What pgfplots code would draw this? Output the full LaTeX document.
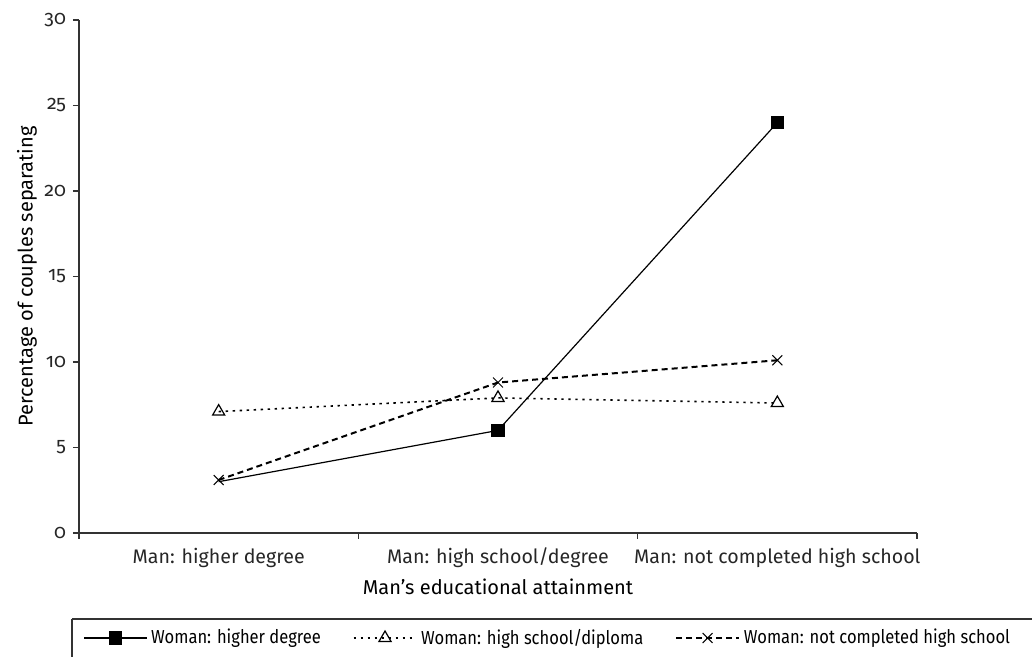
\documentclass[border=0pt]{standalone}
\usepackage{fontspec}
\setmainfont{Fira Sans}[Numbers=OldStyle]
\newfontfamily\legfont{Fira Sans}[FakeStretch=0.88]
\usepackage{pgfplots}
\pgfplotsset{compat=1.18}
\begin{document}
\begin{tikzpicture}
\begin{axis}[
    scale only axis, width=419pt, height=256.5pt,
    xmin=0, xmax=3, ymin=0, ymax=30,
    axis x line=bottom, axis y line=left,
    axis line style={-, line width=0.6pt, black!80},
    ytick={0,5,...,30},
    xtick={0,1,2,3}, xticklabels={},
    extra x ticks={0.5,1.5,2.5},
    extra x tick labels={Man: higher degree, Man: high school/degree, Man: not completed high school},
    extra x tick style={major tick length=0pt, ticklabel style={yshift=-4pt}},
    tick align=outside, major tick length=3pt,
    tick style={black!80, line width=0.6pt},
    ticklabel style={font=\fontsize{9.8}{11}\selectfont, text=black!85},
    /pgf/number format/assume math mode=true,
    xlabel={Man’s educational attainment},
    ylabel={Percentage of couples separating},
    label style={font=\fontsize{9.3}{11}\selectfont, text=black!85},
    every axis y label/.style={at={(rel axis cs:0,0.5)}, xshift=-26pt, rotate=90, anchor=center},
    every axis x label/.style={at={(rel axis cs:0.5,0)}, yshift=-27pt, anchor=center},
    clip=false,
    legend columns=3,
    legend style={draw=none, fill=none, at={(rel axis cs:0,0)}, anchor=west,
        yshift=-52.5pt, xshift=-1pt, font=\legfont\fontsize{9.4}{10}\selectfont,
        /tikz/every even column/.append style={column sep=14pt}},
    legend image code/.code={\draw[mark repeat=2,mark phase=2,#1] plot coordinates {(0cm,0cm) (0.55cm,0cm) (1.1cm,0cm)};},
]

% woman: higher degree (no marker at the first point in the original)
\addplot[black, line width=0.6pt, mark=square*, mark size=3pt, mark indices={2,3}, forget plot]
    coordinates {(0.5,3.0) (1.5,6.0) (2.5,24.0)};
\addlegendimage{black, line width=0.6pt, mark=square*, mark size=3pt}
\addlegendentry{Woman: higher degree}

\addplot[black, line width=0.8pt, dash pattern=on 1.2pt off 2.3pt, mark=triangle, mark size=3.5pt,
    mark options={solid, line width=0.6pt}]
    coordinates {(0.5,7.1) (1.5,7.9) (2.5,7.6)};
\addlegendentry{Woman: high school/diploma}

\addplot[black, line width=1pt, dash pattern=on 3pt off 2pt, mark=x, mark size=3.5pt,
    mark options={solid, line width=0.5pt}]
    coordinates {(0.5,3.1) (1.5,8.8) (2.5,10.1)};
\addlegendentry{Woman: not completed high school}

% legend frame, cut off by the page edge as in the original
\draw[line width=0.6pt, black!80] ([xshift=-3.5pt,yshift=-43pt]rel axis cs:0,0) -- ++(520pt,0);
\draw[line width=0.6pt, black!80] ([xshift=-3.5pt,yshift=-43pt]rel axis cs:0,0) -- ++(0,-40pt);
\end{axis}
\pgfresetboundingbox
\useasboundingbox (-39.5pt,-62pt) rectangle (476.5pt,266.5pt);
\end{tikzpicture}
\end{document}
